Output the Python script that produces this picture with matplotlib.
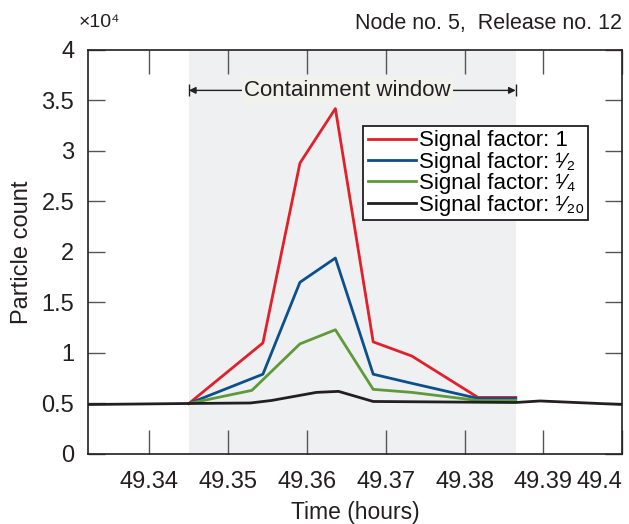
import matplotlib.pyplot as plt

plt.rcParams['font.family'] = ['Liberation Sans', 'DejaVu Sans']

# time points (hours) for the signal-factor runs
t_sig = [49.3450, 49.3544, 49.3591, 49.3636, 49.3684, 49.3733, 49.3817, 49.3865]
red = [0.50, 1.10, 2.88, 3.42, 1.11, 0.97, 0.56, 0.56]
blue = [0.50, 0.79, 1.70, 1.94, 0.79, 0.70, 0.55, 0.55]
t_green = [49.3450, 49.3530, 49.3591, 49.3636, 49.3684, 49.3733, 49.3817, 49.3865]
green = [0.50, 0.63, 1.09, 1.23, 0.64, 0.61, 0.53, 0.53]

t_black = [49.3322, 49.3450, 49.3528, 49.3555, 49.3612, 49.3640, 49.3684, 49.3865, 49.3896, 49.4000]
black = [0.49, 0.50, 0.505, 0.53, 0.61, 0.62, 0.52, 0.51, 0.525, 0.49]

win_start, win_end = 49.3450, 49.3865
x_ticks = [49.34, 49.35, 49.36, 49.37, 49.38, 49.39, 49.40]
x_labels = ['49.34', '49.35', '49.36', '49.37', '49.38', '49.39', '49.4']
y_ticks = [0, 0.5, 1, 1.5, 2, 2.5, 3, 3.5, 4]
y_labels = ['0', '0.5', '1', '1.5', '2', '2.5', '3', '3.5', '4']

fig = plt.figure(figsize=(6.29, 5.24), dpi=100)
ax = fig.add_axes([0.140, 0.1336, 0.849, 0.771])

ax.axvspan(win_start, win_end, color='#eff0f2', lw=0, zorder=0)

lw = 2.0
ax.plot(t_sig, red, color='#e0202a', lw=lw, label='Signal factor: 1', zorder=3)
ax.plot(t_sig, blue, color='#0d4f8b', lw=lw, label='Signal factor: \u00b9\u2044\u2082', zorder=3)
ax.plot(t_green, green, color='#5f9a3a', lw=lw, label='Signal factor: \u00b9\u2044\u2084', zorder=3)
ax.plot(t_black, black, color='#231f20', lw=lw, label='Signal factor: \u00b9\u2044\u2082\u2080', zorder=4)

# containment window arrow
ya = 3.60
ax.annotate('', xy=(win_start, ya), xytext=(win_end, ya),
            arrowprops=dict(arrowstyle='<|-|>', color='#231f20', lw=1.0,
                            shrinkA=0, shrinkB=0, mutation_scale=10))
ax.plot([win_start, win_end], [ya, ya], ls='none', marker='|', ms=9, color='#231f20', mew=1.0)
ax.text(49.3651, ya, 'Containment window', ha='center', va='center',
        fontsize=16, color='#231f20',
        bbox=dict(facecolor='#f2f2ec', edgecolor='none', pad=1.5), zorder=5)

ax.set_xlim(49.3322, 49.4000)
ax.set_ylim(0, 4)
ax.set_xticks(x_ticks)
ax.set_xticklabels(x_labels)
ax.set_yticks(y_ticks)
ax.set_yticklabels(y_labels)
ax.get_xticklabels()[-1].set_ha('right')

ax.tick_params(axis='x', direction='in', length=17, width=1.0, color='#555555',
               top=True, labelsize=17, pad=12, labelcolor='#231f20')
ax.tick_params(axis='y', direction='in', length=12, width=1.0, color='#555555',
               right=True, labelsize=17, pad=10, labelcolor='#231f20')
for s in ax.spines.values():
    s.set_linewidth(1.2)
    s.set_color('#231f20')

fig.text(0.565, 0.022, 'Time (hours)', fontsize=16.5, color='#231f20', ha='center', va='center')
ax.set_ylabel('Particle count', fontsize=17, color='#231f20', labelpad=6)

fig.text(0.125, 0.958, '\u00d710\u2074', fontsize=14, color='#231f20', va='center', ha='left')
fig.text(0.989, 0.955, 'Node no. 5,  Release no. 12', fontsize=15.5, color='#231f20',
         va='center', ha='right')

leg = ax.legend(loc='upper left', bbox_to_anchor=(0.515, 0.812), fontsize=16,
                handlelength=2.2, handletextpad=0.1, labelspacing=0.02,
                borderpad=0.2, borderaxespad=0, frameon=True, fancybox=False)
leg.get_frame().set_edgecolor('#231f20')
leg.get_frame().set_linewidth(1.3)
leg.get_frame().set_facecolor('white')
leg.get_frame().set_alpha(1)
leg.set_zorder(6)

fig.savefig('out.png', dpi=100)
